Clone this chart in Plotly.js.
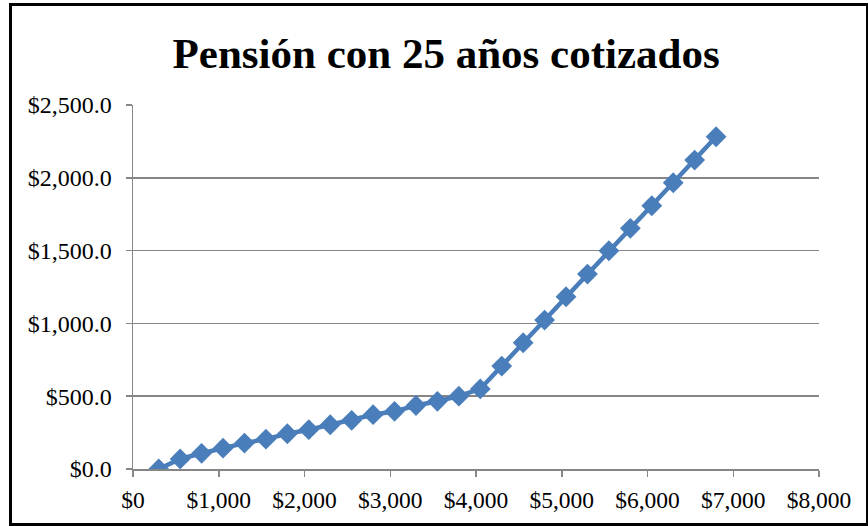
<!DOCTYPE html>
<html>
<head>
<meta charset="utf-8">
<script src="https://cdn.plot.ly/plotly-3.0.1.min.js"></script>
<style>
html,body{margin:0;padding:0;background:#fff;}
#chart{width:868px;height:526px;position:absolute;left:0;top:0;}
#frame{position:absolute;left:9px;top:3px;width:854px;height:517px;border:3px solid #000;pointer-events:none;}
</style>
</head>
<body>
<div id="chart"></div>
<div id="frame"></div>
<script>
// Salario (x) and pensión (y)
const salario = [300, 550, 800, 1050, 1300, 1550, 1800, 2050, 2300, 2550, 2800, 3050, 3300, 3550, 3800, 4050, 4300, 4550, 4800, 5050, 5300, 5550, 5800, 6050, 6300, 6550, 6800];
const pension = [0, 69, 108, 143, 178, 205, 242, 270, 304, 334, 373, 396, 436, 465, 500, 550, 707, 867, 1023, 1183, 1339, 1499, 1653, 1808, 1966, 2122, 2282];
const titulo = "Pensión con 25 años cotizados";
const xTicks = [0, 1000, 2000, 3000, 4000, 5000, 6000, 7000, 8000];
const yTicks = [0, 500, 1000, 1500, 2000, 2500];

const font = "'Liberation Serif', 'Times New Roman', serif";

Plotly.newPlot('chart', [{
  x: salario,
  y: pension,
  type: 'scatter',
  mode: 'lines+markers',
  line: {color: '#4A7EBB', width: 4.5},
  marker: {symbol: 'diamond', size: 16, color: '#4A7EBB'},
  hoverinfo: 'x+y'
}], {
  width: 868, height: 526,
  margin: {l: 133, r: 49, t: 105, b: 57},
  paper_bgcolor: '#fff', plot_bgcolor: '#fff',
  showlegend: false,
  font: {family: font, size: 24, color: '#000'},
  title: {
    text: '<b>' + titulo + '</b>',
    font: {family: font, size: 43, color: '#000'},
    x: 0.514, xref: 'container', xanchor: 'center',
    y: 0.9, yref: 'container', yanchor: 'middle'
  },
  xaxis: {
    range: [0, 8000],
    tickvals: xTicks,
    tickformat: '$,.0f',
    showgrid: false,
    zeroline: false,
    showline: true, linecolor: '#868686', linewidth: 1.5,
    ticks: 'outside', ticklen: 6, tickcolor: '#868686', tickwidth: 1.5,
    ticklabelstandoff: 3,
    tickfont: {family: font, size: 23.5, color: '#000'}
  },
  yaxis: {
    range: [0, 2500],
    tickvals: yTicks,
    tickformat: '$,.1f',
    showgrid: true, gridcolor: '#868686', gridwidth: 1.5,
    zeroline: false,
    showline: true, linecolor: '#868686', linewidth: 1.5,
    ticks: 'outside', ticklen: 6, tickcolor: '#868686', tickwidth: 1.5,
    ticklabelstandoff: 9,
    tickfont: {family: font, size: 24, color: '#000'}
  }
}, {displayModeBar: false, staticPlot: true});
</script>
</body>
</html>
